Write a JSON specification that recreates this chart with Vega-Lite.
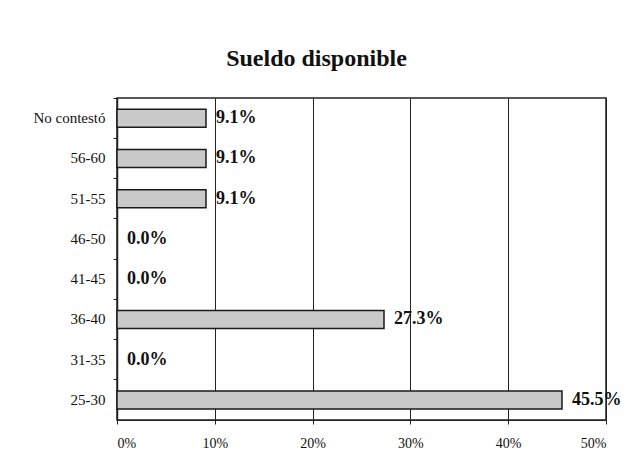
{
  "$schema": "https://vega.github.io/schema/vega-lite/v6.json",
  "autosize": {"type": "none"},
  "width": 489,
  "height": 322,
  "padding": {"left": 117, "top": 98, "right": 22, "bottom": 47},
  "background": "white",
  "title": {
    "text": "Sueldo disponible",
    "font": "Liberation Serif",
    "fontSize": 24,
    "fontWeight": "bold",
    "color": "#111",
    "anchor": "middle",
    "dx": -45,
    "offset": 27
  },
  "data": {
    "values": [
      {"edad": "No contestó", "pct": 0.091},
      {"edad": "56-60", "pct": 0.091},
      {"edad": "51-55", "pct": 0.091},
      {"edad": "46-50", "pct": 0.0},
      {"edad": "41-45", "pct": 0.0},
      {"edad": "36-40", "pct": 0.273},
      {"edad": "31-35", "pct": 0.0},
      {"edad": "25-30", "pct": 0.455}
    ]
  },
  "config": {
    "view": {"stroke": "#222", "strokeWidth": 1.5},
    "axis": {"labelFont": "Liberation Serif", "labelColor": "#111", "domainColor": "#222", "tickColor": "#222"}
  },
  "encoding": {
    "y": {
      "field": "edad",
      "type": "nominal",
      "sort": ["No contestó", "56-60", "51-55", "46-50", "41-45", "36-40", "31-35", "25-30"],
      "title": null,
      "axis": {"bandPosition": 0, "tickSize": 4, "labelPadding": 8, "domain": true, "domainWidth": 1.5, "labelFontSize": 15},
      "scale": {"paddingInner": 0, "paddingOuter": 0}
    },
    "x": {
      "field": "pct",
      "type": "quantitative",
      "scale": {"domain": [0, 0.5], "nice": false},
      "title": null,
      "axis": {"format": ".0%", "values": [0, 0.1, 0.2, 0.3, 0.4, 0.5], "grid": true, "gridColor": "#222", "gridOpacity": 1, "gridWidth": 1, "tickSize": 4, "labelPadding": 12, "labelFontSize": 14}
    }
  },
  "layer": [
    {
      "transform": [{"filter": "datum.pct > 0"}],
      "mark": {"type": "bar", "size": 18, "fill": "#c9c9c9", "stroke": "#1a1a1a", "strokeWidth": 1.5}
    },
    {
      "mark": {"type": "text", "align": "left", "baseline": "middle", "dx": 10, "font": "Liberation Serif", "fontSize": 18, "fontWeight": "bold", "color": "#111"},
      "encoding": {"text": {"field": "pct", "type": "quantitative", "format": ".1%"}}
    }
  ]
}
